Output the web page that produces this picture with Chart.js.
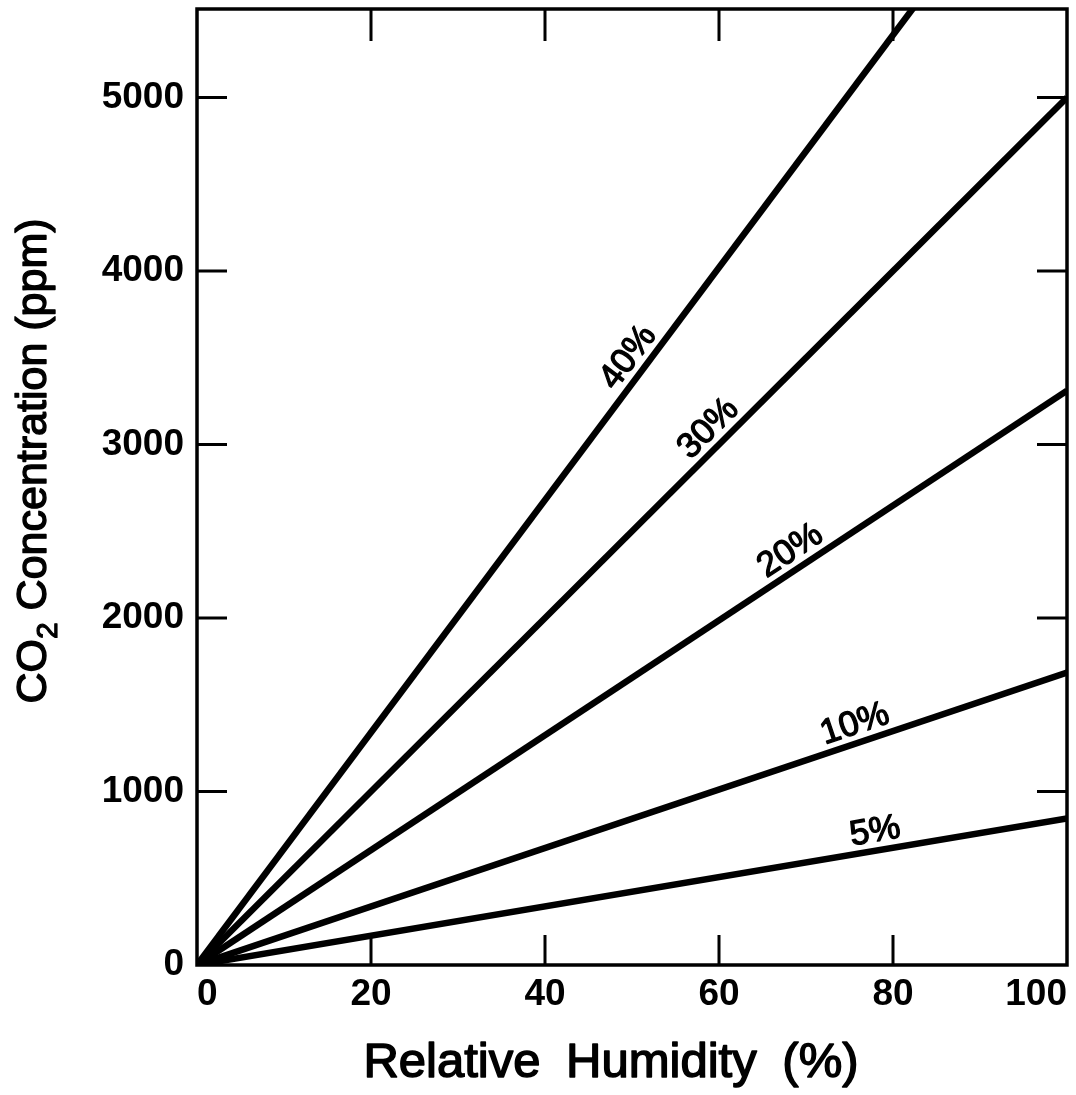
<!DOCTYPE html>
<html>
<head>
<meta charset="utf-8">
<style>
  html, body { margin: 0; padding: 0; background: #ffffff; }
  canvas { display: block; }
</style>
<script src="https://cdn.jsdelivr.net/npm/chart.js@4/dist/chart.umd.min.js"></script>
</head>
<body>
<canvas id="c" width="1076" height="1095"></canvas>
<script>
// ---- data ----
const humidity = [0, 100];                 // Relative Humidity (%)
const co2_5pct  = [0, 845];                // CO2 concentration (ppm)
const co2_10pct = [0, 1685];
const co2_20pct = [0, 3310];
const co2_30pct = [0, 5000];
const co2_40pct = [0, 6700];
const seriesNames = ['5%', '10%', '20%', '30%', '40%'];
const seriesValues = [co2_5pct, co2_10pct, co2_20pct, co2_30pct, co2_40pct];
const xTicks = [0, 20, 40, 60, 80, 100];
const yTicks = [0, 1000, 2000, 3000, 4000, 5000];

// label anchor along each line (humidity value where its label sits)
const labelAt = [78.3, 76.3, 69.4, 60.3, 51.3];

const FONT = '"Liberation Sans", Arial, Helvetica, sans-serif';

const datasets = seriesValues.map((vals, i) => ({
  label: seriesNames[i],
  data: humidity.map((h, j) => ({ x: h, y: vals[j] })),
  borderColor: '#000',
  borderWidth: 6.5,
  pointRadius: 0,
  tension: 0,
  fill: false
}));

function heavyText(ctx, text, x, y, w) {
  ctx.fillText(text, x, y);
  ctx.lineWidth = w;
  ctx.lineJoin = 'round';
  ctx.strokeText(text, x, y);
}

const decor = {
  id: 'decor',
  afterDatasetsDraw(chart) {
    const ctx = chart.ctx;
    const xs = chart.scales.x, ys = chart.scales.y;
    const a = chart.chartArea;
    ctx.save();
    ctx.strokeStyle = '#000';
    ctx.fillStyle = '#000';
    // frame
    ctx.lineWidth = 3.5;
    ctx.strokeRect(a.left, a.top, a.right - a.left, a.bottom - a.top);
    // inward ticks
    ctx.lineWidth = 3;
    ctx.beginPath();
    yTicks.forEach(v => {
      if (v === 0) return;
      const py = ys.getPixelForValue(v);
      ctx.moveTo(a.left, py); ctx.lineTo(a.left + 30, py);
      ctx.moveTo(a.right, py); ctx.lineTo(a.right - 30, py);
    });
    xTicks.forEach(v => {
      if (v === 0 || v === 100) return;
      const px = xs.getPixelForValue(v);
      ctx.moveTo(px, a.bottom); ctx.lineTo(px, a.bottom - 30);
      ctx.moveTo(px, a.top); ctx.lineTo(px, a.top + 32);
    });
    ctx.stroke();

    // line labels
    ctx.font = '35px ' + FONT;
    ctx.textAlign = 'center';
    ctx.textBaseline = 'alphabetic';
    seriesValues.forEach((vals, i) => {
      const x0 = xs.getPixelForValue(humidity[0]), y0 = ys.getPixelForValue(vals[0]);
      const x1 = xs.getPixelForValue(humidity[1]), y1 = ys.getPixelForValue(vals[1]);
      const ang = Math.atan2(y1 - y0, x1 - x0);
      const t = (labelAt[i] - humidity[0]) / (humidity[1] - humidity[0]);
      const px = x0 + (x1 - x0) * t, py = y0 + (y1 - y0) * t;
      ctx.save();
      ctx.translate(px, py);
      ctx.rotate(ang);
      heavyText(ctx, seriesNames[i], 0, -9, 1.3);
      ctx.restore();
    });

    // x axis title
    ctx.font = '49px ' + FONT;
    ctx.textAlign = 'center';
    ctx.textBaseline = 'alphabetic';
    try { ctx.wordSpacing = '12px'; } catch (e) {}
    heavyText(ctx, 'Relative Humidity (%)', 611, 1077, 1.5);

    // y axis title with subscript
    const big = '43px ' + FONT, small = '30px ' + FONT;
    ctx.font = big;
    const w1 = ctx.measureText('CO').width;
    const w3 = ctx.measureText(' Concentration (ppm)').width;
    ctx.font = small;
    const w2 = ctx.measureText('2').width;
    const total = w1 + w2 + w3;
    ctx.save();
    ctx.translate(46, 461);
    ctx.rotate(-Math.PI / 2);
    ctx.textAlign = 'left';
    let cx = -total / 2;
    ctx.font = big; heavyText(ctx, 'CO', cx, 0, 1.4); cx += w1;
    ctx.font = small; heavyText(ctx, '2', cx, 11, 1.2); cx += w2;
    ctx.font = big; heavyText(ctx, ' Concentration (ppm)', cx, 0, 1.4);
    ctx.restore();
    ctx.restore();
  }
};

new Chart(document.getElementById('c'), {
  type: 'line',
  data: { datasets },
  options: {
    responsive: false,
    devicePixelRatio: 1,
    animation: false,
    events: [],
    layout: { padding: { top: 9, right: 9, left: 0, bottom: 0 } },
    plugins: { legend: { display: false }, tooltip: { enabled: false } },
    scales: {
      x: {
        type: 'linear', min: 0, max: 100,
        afterBuildTicks: s => { s.ticks = xTicks.map(v => ({ value: v })); },
        ticks: { color: '#000', font: { family: FONT, size: 37, weight: 'bold' }, align: 'inner', padding: 8, maxRotation: 0,
                 callback: v => String(v) },
        grid: { display: false, drawTicks: false },
        border: { display: false },
        afterFit: s => { s.height = 130; s.paddingLeft = 0; s.paddingRight = 0; }
      },
      y: {
        type: 'linear', min: 0, max: 5510,
        afterBuildTicks: s => { s.ticks = yTicks.map(v => ({ value: v })); },
        ticks: { color: '#000', font: { family: FONT, size: 37, weight: 'bold' }, padding: 13,
                 callback: v => String(v) },
        grid: { display: false, drawTicks: false },
        border: { display: false },
        afterFit: s => { s.width = 197; s.paddingTop = 0; s.paddingBottom = 0; }
      }
    }
  },
  plugins: [decor]
});
</script>
</body>
</html>
